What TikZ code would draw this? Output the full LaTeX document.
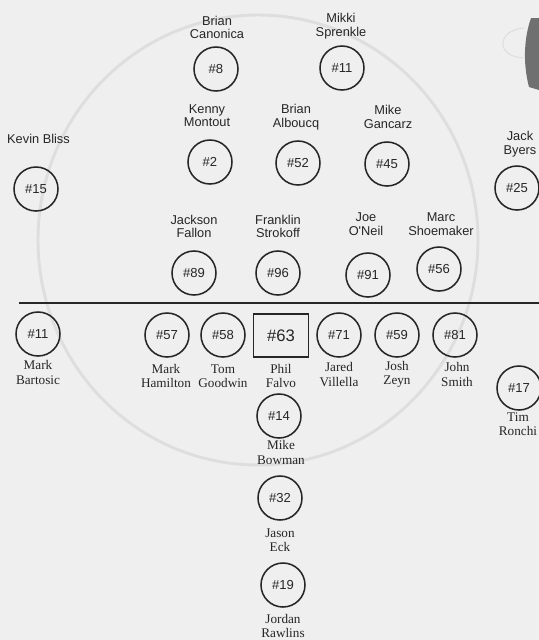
\documentclass[tikz,border=0pt]{standalone}
\usepackage{fontspec}
\setmainfont{Liberation Serif}
\newfontfamily\labsans{Liberation Sans}
\definecolor{bgc}{RGB}{239,239,239}
\definecolor{ink}{RGB}{38,38,38}
\definecolor{ghost}{RGB}{222,222,222}
\definecolor{blobc}{RGB}{112,112,112}
\tikzset{
  player/.style={circle, draw=ink, line width=1.15pt, minimum size=33pt, inner sep=0pt,
    font=\labsans\fontsize{9.8}{10}\selectfont, text=ink},
  captain/.style={rectangle, draw=ink, line width=1.1pt, minimum width=41.25pt,
    minimum height=32.25pt, inner sep=0pt, font=\labsans\fontsize{12.5}{13}\selectfont, text=ink},
  toplab/.style={align=center, inner sep=0pt, text=ink,
    font=\labsans\fontsize{9.6}{10.1}\selectfont},
  botlab/.style={align=center, inner sep=0pt, text=ink,
    font=\fontsize{9.9}{10.8}\selectfont},
  rule/.style={draw=ink, line width=1.2pt},
}
\begin{document}
\begin{tikzpicture}[x=0.75pt,y=-0.75pt]
\fill[bgc] (0,0) rectangle (539,640);
\useasboundingbox (0,0) rectangle (539,640);
% faint show-through from the scanned page
\draw[ghost, line width=2.2pt] (258,240) ellipse [x radius=220, y radius=225];
\fill[blobc] (531,18) .. controls (525,35) and (522,60) .. (529,87) -- (539,90) -- (539,18) -- cycle;
\draw[ghost, line width=0.8pt] (524,28) .. controls (497,30) and (495,56) .. (523,58);

% upper group
\node[toplab] (lCanonica) at (217,27.5) {Brian\\Canonica};
\node[player] (p8) at (216,69) {\#8};
\node[toplab] (lSprenkle) at (341,26) {Mikki\\Sprenkle};
\node[player] (p11a) at (342,68) {\#11};
\node[toplab] (lMontout) at (207,115.5) {Kenny\\Montout};
\node[player] (p2) at (210,162) {\#2};
\node[toplab] (lAlboucq) at (296,117) {Brian\\Alboucq};
\node[player] (p52) at (298,163) {\#52};
\node[toplab] (lGancarz) at (388,117) {Mike\\Gancarz};
\node[player] (p45) at (387,164) {\#45};
\node[toplab] (lBliss) at (38.5,139) {Kevin Bliss};
\node[player] (p15) at (36,189) {\#15};
\node[toplab] (lByers) at (520,144) {Jack\\Byers};
\node[player] (p25) at (517,188) {\#25};
\node[toplab] (lFallon) at (194,226.5) {Jackson\\Fallon};
\node[player] (p89) at (194,273) {\#89};
\node[toplab] (lStrokoff) at (278,226.5) {Franklin\\Strokoff};
\node[player] (p96) at (278,273) {\#96};
\node[toplab] (lONeil) at (366,224) {Joe\\O'Neil};
\node[player] (p91) at (368,275) {\#91};
\node[toplab] (lShoemaker) at (441,224) {Marc\\Shoemaker};
\node[player] (p56) at (439,269) {\#56};

% dividing line
\coordinate (ruleL) at (19,303);
\coordinate (ruleR) at (539,303);
\draw[rule] (ruleL) -- (ruleR);

% lower group
\node[player] (p11b) at (38,334) {\#11};
\node[botlab] (lBartosic) at (38,372.5) {Mark\\Bartosic};
\node[player] (p57) at (167,335) {\#57};
\node[botlab] (lHamilton) at (166,376) {Mark\\Hamilton};
\node[player] (p58) at (223,335) {\#58};
\node[botlab] (lGoodwin) at (223,376) {Tom\\Goodwin};
\node[captain] (p63) at (281,335.5) {\#63};
\node[botlab] (lFalvo) at (281,376) {Phil\\Falvo};
\node[player] (p71) at (339,335) {\#71};
\node[botlab] (lVillella) at (339,374.5) {Jared\\Villella};
\node[player] (p59) at (397,335) {\#59};
\node[botlab] (lZeyn) at (397,374.5) {Josh\\Zeyn};
\node[player] (p81) at (455,335) {\#81};
\node[botlab] (lSmith) at (457,374.5) {John\\Smith};
\node[player] (p17) at (519,388) {\#17};
\node[botlab] (lRonchi) at (518,424) {Tim\\Ronchi};
\node[player] (p14) at (279,416) {\#14};
\node[botlab] (lBowman) at (281,452.5) {Mike\\Bowman};
\node[player] (p32) at (280,498) {\#32};
\node[botlab] (lEck) at (280,540) {Jason\\Eck};
\node[player] (p19) at (283,585) {\#19};
\node[botlab] (lRawlins) at (283,626) {Jordan\\Rawlins};
\end{tikzpicture}
\end{document}
